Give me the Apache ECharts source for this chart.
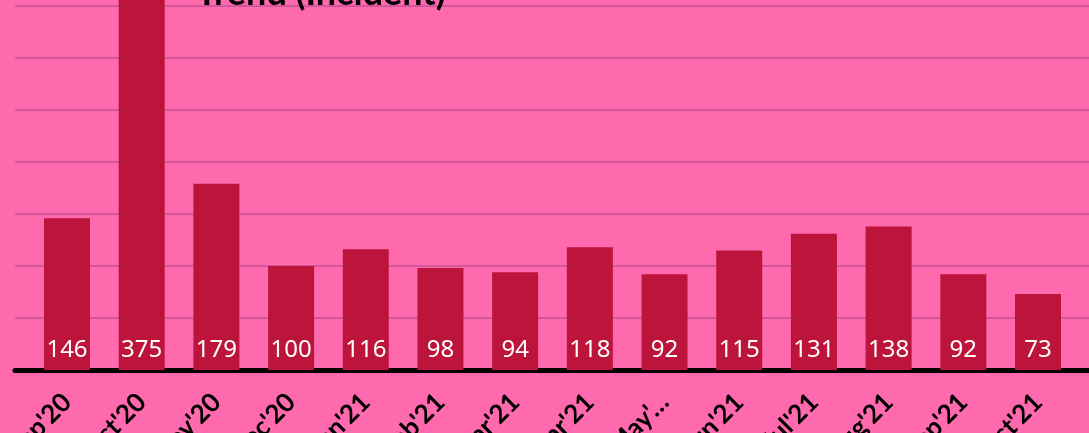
<!DOCTYPE html>
<html>
<head>
<meta charset="utf-8">
<script src="https://cdn.jsdelivr.net/npm/echarts@6/dist/echarts.min.js"></script>
<style>
html,body{margin:0;padding:0;background:#FF69AD;}
#c{width:1089px;height:433px;}
</style>
</head>
<body>
<div id="c"></div>
<script>
const titleText = "Trend (Incident)";
const categories = ["Sep'20","Oct'20","Nov'20","Dec'20","Jan'21","Feb'21","Mar'21","Apr'21","May'…","Jun'21","Jul'21","Aug'21","Sep'21","Oct'21"];
const incidents = [146,375,179,100,116,98,94,118,92,115,131,138,92,73];
const yMin = 0, yMax = 400, yStep = 50;

const chart = echarts.init(document.getElementById('c'));
chart.setOption({
  backgroundColor: '#FF69AD',
  animation: false,
  title: {
    text: titleText,
    left: 191,
    top: -30,
    textStyle: {fontFamily: 'Lato', fontWeight: 'bold', fontSize: 36, color: '#000'}
  },
  grid: [
    {left: 15, right: -10, top: -46, bottom: 63, outerBoundsMode: 'none', containLabel: false},
    {left: 29.65, right: 13.65, top: -46, bottom: 63, outerBoundsMode: 'none', containLabel: false}
  ],
  xAxis: [
    {gridIndex: 0, type: 'value', min: 0, max: 1, show: true,
     axisLine: {show: true, onZero: false, lineStyle: {color: '#000', width: 5}},
     axisTick: {show: false}, axisLabel: {show: false}, splitLine: {show: false}},
    {gridIndex: 1, type: 'category', data: categories,
     axisLine: {show: false}, axisTick: {show: false},
     axisLabel: {interval: 0, rotate: 45, margin: 28, color: '#000',
       fontFamily: 'Lato', fontWeight: 'bold', fontSize: 26}}
  ],
  yAxis: [
    {gridIndex: 0, type: 'value', min: yMin, max: yMax, interval: yStep,
     axisLine: {show: false}, axisTick: {show: false}, axisLabel: {show: false},
     splitLine: {show: true, lineStyle: {color: '#D2579A', width: 2}}},
    {gridIndex: 1, type: 'value', min: yMin, max: yMax, interval: yStep, show: false,
     splitLine: {show: false}}
  ],
  series: [{
    type: 'bar',
    xAxisIndex: 1, yAxisIndex: 1,
    data: incidents,
    barWidth: 46,
    clip: false,
    itemStyle: {color: '#BD143C'},
    label: {show: true, position: 'insideBottom', distance: 8, color: '#fff',
      fontFamily: 'Noto Sans', fontSize: 24}
  }]
});
</script>
</body>
</html>
